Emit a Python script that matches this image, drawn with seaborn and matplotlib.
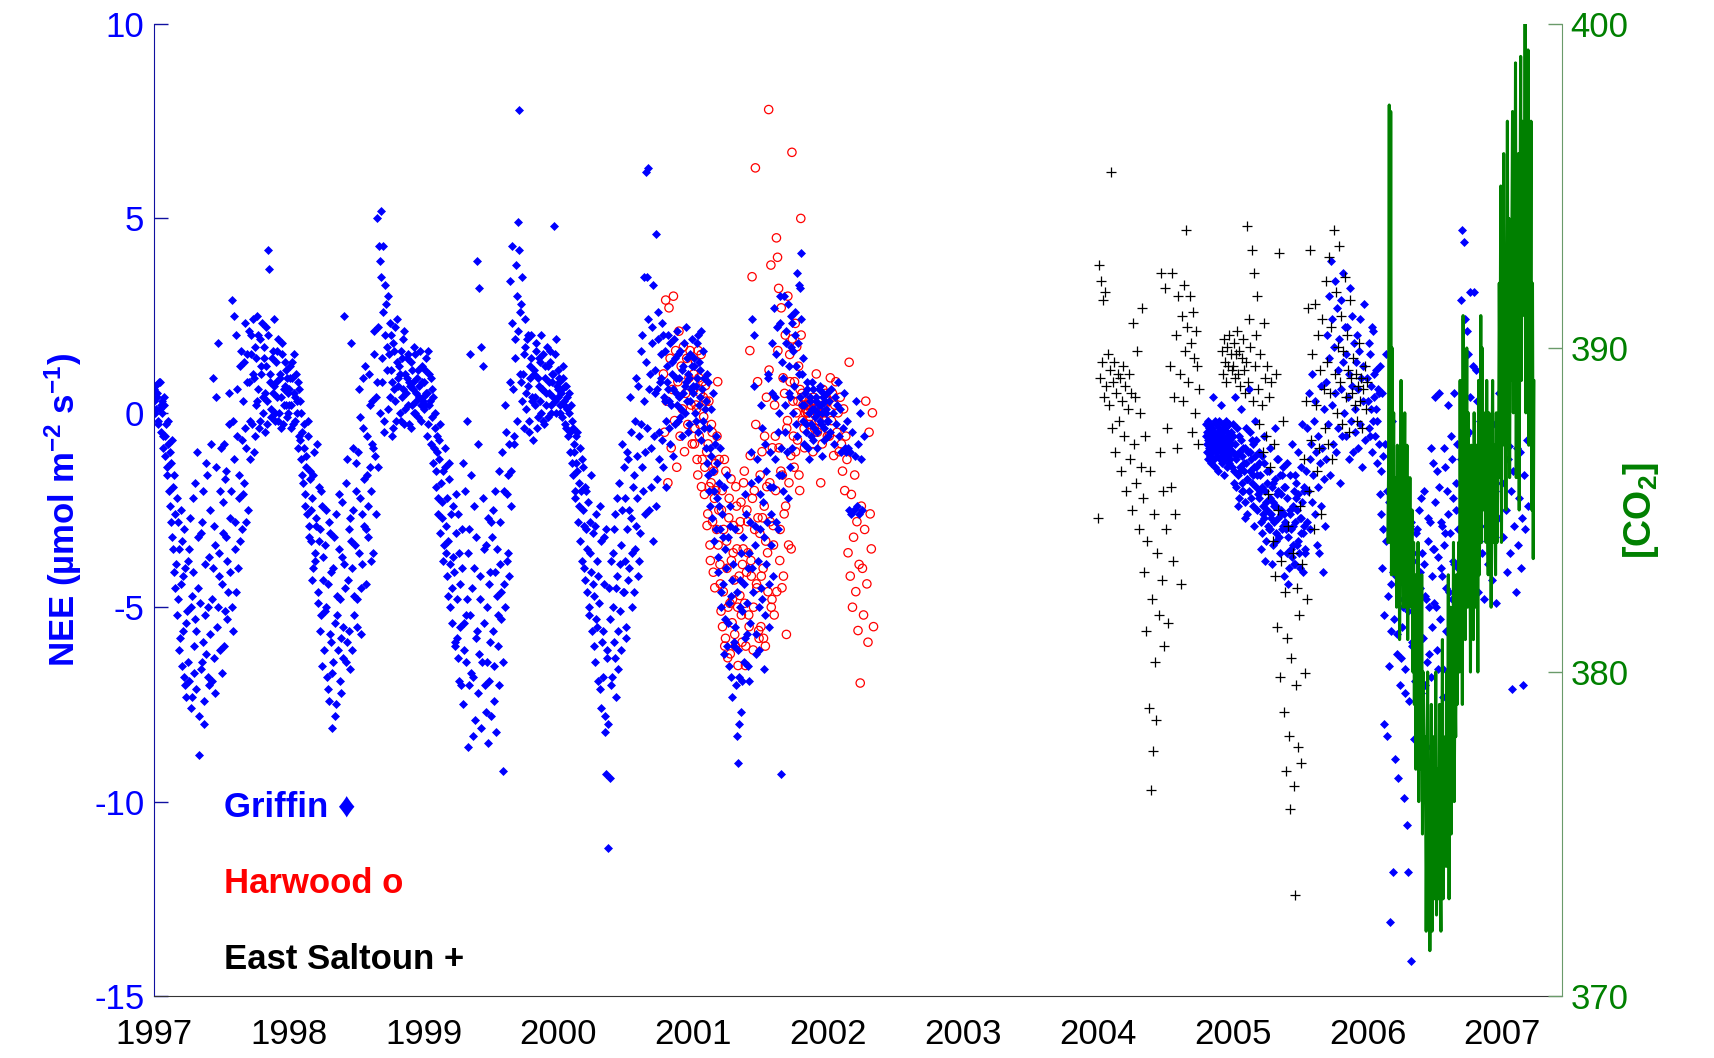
import numpy as np
import pandas as pd
import matplotlib
matplotlib.use("Agg")
import matplotlib.pyplot as plt
import matplotlib.dates as mdates
import seaborn as sns

# NEE values, one value per step (days) from each start date
griffin_1997 = [0.3, 0.7, 0.1, 0.5, -0.2, 0.8, 0.2, 0.0, -0.6, 0.4,
                -1.1, -0.3, -1.6, -0.8, -2.4, -1.3, -3.2, -1.9, -4.1, -2.6,
                -3.9, -5.2, -2.8, -6.1, -4.4, -3.3, -5.6, -6.8, -4.0, -7.3,
                -5.1, -6.4, -3.5, -7.6, -4.7, -2.2, -6.0, -5.3, -7.1, -1.0,
                -4.5, -8.8, -6.6, -2.8, -5.9, -7.4, -3.9, -6.2, -1.6, -5.0,
                -7.0, -2.5, -4.8, 0.9, -6.3, -3.4, 0.4, -5.5, 1.8, -4.2,
                -2.0, -6.7, -3.1, -0.8, -5.1, -1.5, -3.8, -4.6, -0.3, -2.7,
                2.9, -5.6, -1.2, -3.5, 2.0, -0.6, -4.0, -2.2, 1.2, -3.0,
                0.3, -1.8, 2.3, -0.9, 1.5, -2.5, 0.8, -0.2, 2.0, 1.0,
                -1.0, 1.7, 0.2, 2.5, 0.6, -0.4, 1.9, 1.2, 0.0, 1.4,
                0.5, 2.2, -0.3, 4.2, 3.7, 1.0, 0.1, 1.6, 0.7, -0.2,
                1.3, 0.4, 1.9, 0.0, 0.9, -0.4, 1.5, 0.2, 0.7, 1.1, -0.1, 0.5]
griffin_1997b = [0.6, 0.0, 0.4, -0.3, 0.8, 0.1, -0.5, 0.3, -0.9, 0.2,
                 -0.6, -1.4, -0.2, -2.0, -1.0, -2.8, -0.7, -3.5, -1.6, -4.5,
                 -2.2, -4.8, -3.5, -5.8, -2.5, -6.5, -4.2, -3.0, -7.0, -5.4,
                 -3.8, -6.9, -2.7, -5.0, -7.3, -4.1, -6.7, -1.8, -5.6, -3.2,
                 -7.8, -4.9, -3.1, -6.4, -2.0, -8.0, -5.2, -1.3, -6.8, -3.7,
                 -5.7, -0.8, -6.9, -4.0, -2.9, -7.2, -1.4, -5.0, -3.6, -6.1,
                 -0.9, -4.4, -2.3, -6.0, -1.7, -3.2, -5.3, 0.5, -4.1, -2.0,
                 -5.0, -0.2, 2.5, -2.8, -4.6, 0.6, -1.6, -3.3, 1.6, -0.7,
                 -2.1, 1.3, -0.4, -2.8, 0.8, 2.1, -1.2, 1.5, -0.3, 2.4,
                 0.9, -0.6, 1.4, 0.3, 2.0, -0.2, 1.0, 2.3, 0.4, 1.7,
                 -0.5, 1.2, 0.3, 2.0, 0.8, -0.1, 1.4, 0.5, 2.4, 0.0,
                 0.8, 1.6, -0.2, 1.0, 0.4, 1.8, -0.3, 0.6, 1.3, 0.2, 0.9, 0.0]
griffin_1998 = [0.6, 1.2, 0.2, 0.9, -0.3, 1.5, 0.4, 0.0, 0.8, -0.6,
                0.3, -1.2, -0.5, -1.8, -0.9, -2.4, -1.4, -0.2, -2.9, -1.7,
                -3.3, -2.2, -4.0, -1.0, -3.6, -2.7, -4.6, -1.9, -3.0, -5.2,
                -2.4, -4.3, -6.1, -3.4, -5.0, -7.1, -2.8, -5.7, -4.1, -8.1,
                -6.4, -3.2, -5.4, -7.5, -4.7, -2.1, -6.9, -5.8, -3.7, -6.3,
                2.5, -4.5, -1.8, -5.9, -3.0, -6.6, 1.8, -4.0, -2.5, -5.2,
                -3.4, -1.3, -4.8, 0.6, -2.2, -5.7, -3.9, -0.4, -2.9, 1.2,
                -4.4, -1.6, -3.2, 0.2, -2.0, -0.8, -3.6, 1.5, -1.1, 0.4,
                5.0, -1.4, 3.9, 5.2, 0.8, 4.3, -0.5, 3.3, 2.8, 1.7,
                0.1, 2.3, 1.1, -0.6, 1.8, 0.6, 2.2, -0.2, 1.3, 0.9,
                0.0, 1.6, 0.4, 1.9, -0.3, 1.0, 0.5, 1.4, 0.2, 0.8,
                -0.4, 1.1, 0.6, 0.0, 1.5, 0.3, 0.9, -0.1, 0.7, 0.2, 1.2, 0.4]
griffin_1998b = [0.2, 0.9, -0.4, 1.3, 0.5, -0.2, 1.0, 0.3, -0.9, 0.6,
                 -0.7, 0.0, -1.6, -0.3, -2.1, -1.1, -2.6, -0.6, -3.2, -1.5,
                 -2.5, -4.3, -1.6, -3.8, -2.9, -0.8, -4.9, -3.3, -5.6, -2.0,
                 -6.5, -3.7, -5.1, -2.5, -6.8, -4.4, -7.4, -3.1, -5.9, -6.7,
                 -4.0, -7.8, -2.6, -5.2, -6.1, -3.5, -4.8, -7.2, -2.3, -5.5,
                 -3.9, -6.4, -1.2, -4.3, -5.6, -2.7, -3.3, -6.1, -0.9, -4.7,
                 -2.0, -5.5, -1.0, -3.6, -0.1, -4.5, -2.6, 0.9, -1.7, -3.0,
                 -0.6, -2.4, 1.0, -1.4, -3.8, 0.3, -0.9, 2.1, -2.6, 0.8,
                 2.2, 4.3, 0.0, 3.5, 1.4, 2.6, -0.2, 2.0, 1.1, 3.0,
                 1.5, 0.4, 2.0, 0.8, -0.4, 1.6, 0.3, 2.4, 0.7, 1.2,
                 1.0, -0.2, 1.4, 0.6, 2.1, 0.1, 0.9, 1.5, -0.3, 0.7,
                 1.3, 0.2, 0.8, 1.7, 0.0, 0.5, 1.1, 0.4, 1.6, -0.2, 0.8, 0.3]
griffin_1999 = [0.8, 0.2, 1.4, 0.5, -0.3, 1.0, 0.3, -0.8, 0.6, -1.3,
                -0.4, -1.9, -1.0, -2.6, -0.7, -3.1, -1.8, -2.3, -3.8, -1.4,
                -2.9, -4.2, -3.3, -1.7, -5.0, -2.6, -4.5, -3.7, -5.9, -2.1,
                -4.8, -6.3, -3.6, -5.5, -7.0, -4.0, -1.3, -6.1, -5.2, -0.2,
                -8.6, -3.0, 1.5, -6.7, -4.5, -8.3, -2.4, -5.8, 3.9, -7.2,
                3.2, -4.8, 1.7, -6.4, 1.2, -3.5, -7.7, -5.0, -2.7, -6.9,
                -4.1, -2.8, -3.2, -5.6, -7.4, -2.0, -4.7, -6.0, -1.5, -3.9,
                -5.3, -1.0, -9.2, -4.4, 0.2, -2.1, -3.6, -0.8, 3.4, -1.5,
                4.3, 0.6, -0.6, 1.9, 3.0, 4.9, 7.8, 2.6, 0.8, 3.5,
                1.0, -0.4, 1.7, 0.5, 2.0, -0.2, 0.9, 1.4, 0.3, -0.7,
                1.1, 0.4, 1.8, -0.1, 0.7, 1.3, 0.0, 0.6, 1.5, -0.3,
                0.9, 0.2, 1.2, 0.5, 1.6, 0.0, 0.8, 1.0, 4.8, 0.3, 1.9, 0.6]
griffin_1999b = [0.1, 1.1, 0.5, -0.6, 1.6, 0.2, 0.9, -0.1, 0.4, -0.9,
                 0.0, -1.5, -0.6, -2.2, -1.2, -0.3, -2.7, -1.5, -3.4, -0.9,
                 -3.6, -2.2, -4.7, -1.3, -3.9, -5.4, -2.4, -4.1, -6.0, -3.1,
                 -5.8, -2.6, -6.9, -4.4, -3.0, -7.5, -5.4, -2.0, -6.4, -4.8,
                 -3.6, -7.0, -5.2, -1.6, -6.8, -4.0, -7.9, -3.2, -5.6, -0.8,
                 -6.2, -4.2, -8.1, -2.2, -5.4, -7.0, -3.4, -6.4, -8.5, -4.4,
                 -5.9, -7.8, -2.5, -6.5, -4.1, -8.2, -3.5, -5.2, -7.0, -2.8,
                 -4.6, -6.4, -2.0, -5.0, -0.5, -3.8, -1.6, -4.2, 0.8, -2.4,
                 2.3, -0.8, 1.4, 3.8, -0.2, 2.1, 4.2, 1.0, 2.8, 0.3,
                 1.5, 2.4, 0.1, 1.9, 0.7, -0.5, 1.2, 2.0, 0.4, 1.0,
                 0.2, 1.6, -0.4, 0.9, 1.4, 0.3, 2.0, 0.6, -0.2, 1.2,
                 0.5, 1.7, -0.1, 0.8, 1.3, 0.2, 1.0, 0.4, 1.5, 0.0, 0.7, 1.1]
griffin_2000 = [0.4, 0.9, 0.0, 0.6, 1.2, 0.2, -0.3, 0.7, 0.1, -0.6,
                0.5, -1.0, -0.2, -1.6, -0.8, -2.2, -1.3, -0.5, -2.8, -1.8,
                -3.3, -1.2, -2.5, -4.0, -1.9, -3.0, -4.6, -2.3, -5.2, -3.6,
                -1.6, -4.4, -6.0, -2.9, -5.3, -3.8, -6.9, -4.9, -2.4, -7.6,
                -5.6, -3.2, -8.2, -9.3, -6.3, -11.2, -4.5, -9.4, -7.0, -3.6,
                -5.9, -2.6, -7.3, -4.2, -6.6, -1.8, -5.1, -3.4, -0.8, -4.6,
                -2.2, -5.5, -3.0, -1.2, -4.0, 0.4, -2.7, -5.0, -1.6, -3.5,
                0.9, -2.2, -4.2, -0.6, -3.1, 1.6, -1.4, 0.3, -2.6, 6.2,
                3.5, 6.3, -2.5, 1.0, -0.9, 2.2, -3.3, 0.5, 4.6, -1.7,
                2.6, -1.2, 0.8, 1.5, -0.7, 2.0, 0.3, -1.9, 1.2, 0.6,
                -0.4, 1.8, 0.2, 1.0, -1.1, 1.4, 0.5, 2.1, -0.2, 0.9,
                1.6, 0.1, -0.6, 1.2, 0.7, 2.2, 0.3, 1.0, -0.3, 1.5, 0.6, 1.9]
griffin_2000b = [0.8, 0.2, 0.5, -0.1, 0.9, 0.3, 0.7, -0.4, 0.4, 0.0,
                 -0.5, 0.2, -1.3, -0.4, -1.0, -2.0, -0.6, -1.5, -2.4, -0.9,
                 -2.0, -3.8, -1.4, -2.9, -4.3, -2.0, -3.5, -5.0, -2.8, -4.1,
                 -5.6, -3.1, -4.7, -6.4, -2.6, -5.5, -4.2, -7.1, -3.3, -5.9,
                 -6.8, -4.4, -7.8, -3.0, -6.1, -8.0, -5.3, -3.8, -6.8, -5.0,
                 -3.0, -6.3, -4.5, -2.2, -5.6, -3.9, -6.1, -2.5, -4.6, -1.4,
                 -3.8, -5.8, -1.0, -4.3, -2.5, -0.5, -3.6, -1.9, -4.6, -0.2,
                 -2.9, -1.1, 0.7, -3.8, -0.3, 2.0, -2.0, 3.5, -1.0, 1.3,
                 -0.4, 2.4, 0.6, -1.9, 1.8, 3.3, -0.6, 1.1, -2.4, 0.6,
                 1.9, -0.5, 0.9, 2.3, -1.4, 0.4, 1.6, -0.2, 0.8, 2.0,
                 0.3, -0.8, 1.3, 0.6, 1.9, -0.3, 0.9, 0.2, 1.5, 0.4,
                 -0.1, 1.1, 0.5, 1.8, 0.0, 0.8, 1.4, -0.5, 0.9, 0.3, 1.2, 0.7]
griffin_2001 = [0.5, 1.4, -0.2, 0.9, 2.0, 0.2, 1.1, -0.7, 0.6, 1.6,
                -0.4, 0.3, -1.3, 0.8, -2.0, -0.9, 0.1, -2.7, -1.5, -3.3,
                -0.6, -2.2, -4.1, -1.8, -3.0, -5.0, -2.6, -4.4, -6.2, -3.5,
                -1.6, -5.4, -6.5, -2.9, -4.7, -7.3, -3.9, -6.0, -5.5, -8.3,
                -9.0, -6.8, -4.3, -7.7, -5.1, -3.2, -6.4, -2.1, -5.7, -4.0,
                -6.9, -2.8, -1.0, 2.4, -4.6, 2.0, -3.4, -6.2, -1.7, -5.0,
                -3.0, 0.2, -4.8, -2.3, -6.6, -0.8, -3.9, 1.0, -5.5, -1.9,
                -2.6, 0.5, -4.2, 2.7, -1.2, 1.5, -3.0, 0.0, 2.3, -9.3,
                -1.6, 0.9, 3.0, -0.5, 1.8, -2.2, 1.2, 0.4, 2.5, -0.9,
                1.6, 0.7, 2.0, -0.3, 3.6, 1.0, 3.2, 4.1, 0.2, 1.4,
                -0.8, 0.5, -0.3, 0.8, -1.2, 0.3, -0.6, 0.1, 0.6, -0.4,
                -0.1, 0.4, -0.9, 0.2, 0.7, -0.3, 0.0, 0.5, -0.7, 0.3, 0.1, -0.2]
griffin_2001b = [1.2, 0.0, 0.7, 1.8, -0.5, 1.3, 0.4, 2.1, -0.2, 0.9,
                 0.1, -0.9, 1.0, -1.6, -0.4, -2.4, -1.1, 0.5, -2.0, -0.8,
                 -3.0, -1.3, -3.7, -2.4, -0.9, -4.6, -3.2, -1.9, -5.3, -4.0,
                 -6.0, -3.2, -4.9, -2.4, -6.8, -4.3, -5.9, -3.0, -7.0, -4.6,
                 -6.1, -8.0, -5.0, -3.6, -6.9, -4.4, -5.8, -2.6, -4.9, -6.5,
                 -3.6, -5.4, -1.8, -4.0, 0.7, -2.9, -5.7, -1.2, -3.8, -6.1,
                 -2.1, -4.5, -0.4, -3.2, -5.2, -1.5, -2.8, 0.9, -4.4, -1.0,
                 -3.4, 1.8, -1.9, 0.4, -2.8, 2.2, -0.5, -1.6, 3.0, -0.9,
                 1.3, -2.0, 0.2, 2.1, -1.0, 2.8, 0.5, -1.4, 1.7, 2.3,
                 0.0, 2.6, 1.2, -0.6, 1.8, 3.3, 0.4, 2.4, 1.0, -0.2,
                 0.2, -0.5, 0.6, -0.9, 0.0, 0.4, -0.3, 0.8, -0.7, 0.1,
                 0.3, -0.5, 0.0, 0.6, -0.2, 0.2, -1.1, 0.4, -0.4, 0.0, 0.5, -0.6]
griffin_2002 = [-0.2, 0.3, -0.5, 0.6, 0.0, -0.8, 0.4, -0.3, 0.2, 0.8, -0.6,
                0.1, -1.0, -0.4, 0.5, -0.9, -1.0, -0.2, -0.9, -2.5, -1.0, -2.6,
                -0.5, -2.5, -1.1, 0.3, -2.4, -0.8, -2.6, 0.0, -1.2, -2.5, -0.6]
griffin_2004 = [-0.6, -0.3, -1.0, -0.5, -0.8, -0.2, -1.2, -0.7, -0.4, -0.9,
                -0.6, -1.1, -0.3, -0.8, -0.5, -1.3, -0.7, -0.4, -1.0, -0.6,
                0.4, -0.9, -0.5, -1.2, -0.8, -0.2, -1.4, -0.6, -1.0, -0.3,
                -0.7, -1.1, -0.5, -0.9, -1.5, -0.4, -0.8, -0.2, -1.2, -0.6,
                -1.0, -0.7, 0.2, -1.3, -0.5, -0.9, -0.3, -1.1, -0.6, -1.6,
                -0.8, -0.4, -1.2, -0.7, -1.0, -0.2, -0.9, -1.4, -0.5, -0.8,
                -1.1, -0.6, -1.3, -0.3, -0.9, -0.7, -1.2, -0.5, -1.0, -0.8, -1.4, -0.6]
griffin_2005 = [-1.0, -0.6, -1.5, -0.8, -1.9, -1.2, -0.4, -1.6, -2.2, -1.0, -1.4, -0.7,
                -1.8, -1.1, -2.0, -1.5, -0.9, -2.3, -1.3, -1.7, -2.6, -1.0, -2.0, -1.5,
                -0.5, -1.2, -1.8, -0.8, -2.4, -1.4, -1.1, -1.9, -0.7, -1.6, -2.1, -1.3,
                -2.2, -1.6, -2.8, -1.9, -3.1, -2.4, -1.3, -2.7, -2.0, -3.3, -1.8, -2.5,
                -2.9, -1.5, -2.2, -3.0, -2.6, -1.9, -3.4, -2.3, -2.8, -1.7, -3.1, -2.4,
                -1.2, -2.0, -2.7, -3.2, -1.6, -2.5, -2.1, -3.0, -1.4, -2.6, -1.9, -2.8,
                -2.9, -3.6, -2.2, -3.2, -4.0, -2.6, -1.6, -3.0, -3.7, -2.4, -3.4, -2.0,
                -2.8, -3.9, -1.8, -2.5, -3.3, -2.1, -3.6, -2.7, -1.4, -3.1, -2.3, -4.1,
                -2.9, -1.9, -3.5,
                -1.5, -2.8, -0.4, -2.0, 0.5, -1.2, -3.0, -0.8, -2.3, 1.0, -1.6, -0.2,
                -2.6, 0.3, -1.0, -3.4, -0.6, -1.9, -3.6, -1.3, 0.7, -2.4, -0.9, -4.1,
                -1.7, 0.1, -2.9,
                0.8, -1.2, 2.0, -0.3, 3.0, 1.4, -1.6, 3.9, 0.2, 2.4, -0.8, 1.7,
                3.4, 0.5, -1.0, 2.7, 1.1, -0.4, 1.9, -1.8, 0.6, 2.9, -0.6, 1.3,
                3.6, 0.0, 2.2,
                1.5, -0.6, 2.2, 0.4, -1.2, 1.0, 3.2, -0.2, 0.7, 2.5, -1.0, 1.8,
                0.1, -0.5, 1.3, 2.0, -0.9, 0.6, 1.6, -0.3, 2.4, 0.9, -1.4, 1.2,
                0.3, 2.8, -0.7]
griffin_2005b = [-0.3, -1.8, 0.4, -1.1, -2.4, -0.6, -1.5, 0.1, -2.0, -0.9, -1.3, -2.7,
                 -0.4, -1.7, 0.6, -1.0, -2.2, -0.7, -1.6, -2.9, -0.2, -1.4, -2.5, -1.0,
                 -2.0, -3.5, -1.1, -2.6, -0.6, -3.8, -2.3, -1.5, -3.0, -0.9, -2.7, -3.9,
                 -1.8, -2.4, -0.4, -3.3, -2.1, -1.2, -3.6, -2.6, -1.6, -2.9, -4.2, -1.9,
                 -3.0, -1.3, -4.4, -2.5, -3.5, -0.8, -2.9, -3.9, -1.6, -2.2, -3.4, -1.0,
                 -4.0, -2.7, -0.3, -3.1, -2.0, -3.6]
griffin_2006 = [0.9, -0.4, 1.5, 0.1, -1.0, 2.1, 0.4, -0.6, 1.1, -0.2, 0.5, 1.2,
                -1.5, 0.5, -3.0, -8.0, -0.8, 1.5, -8.3, -2.3, -13.1, -4.4, -0.2, -11.8,
                -3.0, -8.9, -4.2, -5.7, -9.4, -2.4, -6.3, -3.6, -5.0, -9.9, -7.2, -4.4,
                -10.6, -11.8, -2.9, -14.1, -6.0, -3.8,
                -8.4, -5.2, -3.1, -6.6, -8.5, -4.5, -2.2, -5.8, -9.1, -3.9, -7.0, -4.8,
                -8.6, -2.7, -6.2, -0.9, -5.5, -1.3,
                -3.5, 0.4, -5.0, -1.5, -6.6, 0.5, -2.8, -4.2, -7.3, -0.9, -3.1, -5.6,
                -2.0, 0.2, -4.6, -6.0, -1.2, -3.8, 0.5, -5.1, -2.5, -0.8, -4.0, -6.4,
                2.9, 4.7, -2.0, 4.4, 2.4, -3.5, 2.1, 1.5, -0.5, 3.1, -4.2, 1.2,
                3.1, -1.5, -2.8, 0.3, -4.6, -1.0,
                -2.1, -3.6, -0.4, -4.8, -1.7, -2.9, -0.8, -3.9, -2.4, -1.2, -4.3, -0.3,
                -3.1, -2.0, -4.9, -1.5, -2.7, 0.5]
griffin_2006b = [0.3, 1.8, -0.6, 0.7, 2.2, -0.2, 1.0, 0.1, -1.3, 0.6, -0.8, -2.1,
                 -2.6, -4.0, -1.1, -5.2, -3.3, -2.0, -4.7, -6.5, -3.0, -5.6, -2.2, -4.1,
                 -5.3, -3.4, -6.2, -2.6, -4.8, -7.0, -3.9, -5.5, -2.3, -4.4, -6.6, -3.2,
                 -5.1, -7.4, -4.0, -2.8, -5.9, -3.6,
                 -4.6, -6.9, -3.0, -5.4, -2.5, -4.1, -7.2, -3.6, -5.8, -2.0, -4.7, -6.4,
                 -3.3, -5.0, -2.8, -6.8, -4.2, -3.5,
                 -4.9, -2.3, -6.1, -3.7, -1.9, -5.3, -4.0, -2.9, -6.6, -3.4, -1.4, -4.5,
                 -2.6, -5.7, -3.1, -0.6, -4.8, -2.2, -3.9, -5.4, -1.8, -3.0, -4.4, -2.5,
                 -1.2, -3.4, 0.8, -2.4, -4.0, -0.6, -2.9, -1.6, 0.4, -3.6, -2.0, -0.9,
                 -4.4, -1.3, 1.1, -2.7, -3.3, -0.2]
griffin_2007 = [-1.8, -3.2, -0.6, -2.5, -4.1, -1.2, -0.85, -3.6, -2.0, -7.1, -1.5, -2.9,
                -4.6, -0.9, -3.4, -2.2, -1.0, -4.0, -2.7, -7.0, -1.6, -3.0, -0.7, -2.4]

harwood_2000 = [1.0, -0.5, 2.9, 0.3, -1.8, 2.7, 1.4, -0.9, 0.6, 3.0, -0.2, 1.6, -1.4,
                0.8, 2.1, -0.6, 1.2, 0.1, 1.7, -1.0, 0.5, 1.4, -0.3, 0.9, 1.6, 0.2, -0.8]
harwood_2001 = [0.6, -0.8, 1.3, 0.1, -1.6, 0.9, -0.3, 1.5, -1.2, 0.4, -2.1, 0.7,
                -1.0, -2.6, 0.3, -3.4, -1.8, -0.5, -4.1, -2.2, -1.3, -3.0, 0.8, -2.5,
                -3.9, -5.1, -2.0, -4.6, -1.2, -5.8, -3.3, -6.3, -2.7, -4.9, -1.7, -5.4,
                -3.6, -4.3, -6.0, -2.4, -5.0, -3.0,
                -4.7, -2.3, -5.9, -3.5, -1.5, -6.5, -4.1, -2.8, -5.2, 1.6, -3.8, 3.5,
                -6.1, -2.0, 6.3, -4.4, 0.8, -5.6,
                -3.1, -5.5, -1.0, -4.0, -2.4, -6.0, 0.4, -3.6, 7.8, -1.8, 3.8, -4.8,
                -2.9, -5.2, -0.6, 4.5, 4.0, 3.2, -3.8, -1.5, -4.5, 0.9, -2.6, 2.0,
                -5.7, -0.2, -3.4, 1.5, -1.1, 6.7,
                0.3, -1.4, 2.3, 0.0, -0.7, 1.2, -2.0, 5.0, 0.5, 0.2, -0.4, 0.0,
                0.1, 0.0, 0.2, -0.3, 0.1, 0.3, -1.0, 0.0, 0.2, 1.0, -0.5, 0.1,
                0.3, -1.8, 0.0, 0.6, -0.2, 0.2, 0.4, -0.6]
harwood_2001b = [1.0, -0.4, 0.2, -1.2, 1.6, -0.6, 0.5, -1.9, 0.8, -0.1, -1.4, 0.3,
                 -2.9, -0.8, -1.9, -3.8, -0.3, -2.8, -1.5, -4.5, -2.0, -0.6, -3.4, -1.2,
                 -4.4, -2.5, -5.5, -3.0, -6.0, -1.5, -4.0, -5.0, -2.2, -6.2, -3.8, -4.8,
                 -2.9, -5.7, -1.9, -3.5, -6.5, -4.2,
                 -2.8, -5.2, -3.9, -1.8, -4.9, -6.0, -2.5, -3.6, -5.5, -1.1, -4.2, -2.2,
                 -5.0, -3.0, -0.3, -4.5, -2.7, -5.8,
                 -1.6, -4.2, -2.7, -5.8, -0.6, -3.3, -1.9, -4.6, 1.1, -2.8, -5.0, -0.9,
                 -3.4, 0.2, -2.0, -4.6, 1.6, -0.9, -3.0, 2.7, -1.6, -4.2, 0.5, -2.4,
                 -0.4, 3.0, -1.8, 0.8, -3.5, 1.9,
                 -0.6, 0.8, -1.0, 1.7, 0.3, -1.6, 0.6, 2.0, -0.2, 0.4, -0.9, 0.1,
                 0.2, 0.0, 0.3, -0.1, 0.2, 0.0, 0.4, -0.4, 0.1, 0.2, 0.0, -0.2,
                 0.3, 0.1, -0.8, 0.2, 0.0, 0.5]
harwood_2002 = [0.3, -0.6, 0.9, -0.2, 0.5, -1.1, 0.2, 0.8, -0.5, 0.0, -1.0, 0.4,
                -0.8, -1.5, 0.1, -2.0, -0.6, -1.2,
                -3.6, 1.3, -4.2, -2.1, -5.0, -3.2, -1.6, -4.6, -2.8, -5.6, -3.9, -6.95,
                -2.4, -4.0, -5.2, -3.0, 0.3, -4.4, -5.9, -0.5, -2.6, -3.5, 0.0, -5.5]

nan = np.nan
saltoun_2004 = [-2.7, 3.8, 0.9, 3.4, 1.3, 2.9, 0.4, 3.1, 0.7, 1.5,
                0.2, 1.1, 6.2, -0.4, 0.8, 1.3, -1.0, 0.5, 1.0, -0.2,
                0.9, -1.5, 0.3, 1.2, -0.6, 0.7, -2.0, 0.1, 1.0, -1.2,
                0.5, -2.5, 2.3, -0.8, 0.4, -1.8, 1.6, -3.0, 0.0, -1.4,
                2.7, -2.2, -4.1, -0.6, -5.6, -3.3, -7.6, -1.5, -9.7, -4.8,
                -8.7, -2.6, -6.4, -7.9, -3.6, -5.2, -1.0, 3.6, -4.3, -2.0,
                -6.0, 3.2, -3.0, -0.4, -5.4, 1.2, -1.9, 3.6, -3.8, 0.4,
                -2.6, 2.0, -0.9, 3.0, 1.0, -4.4, 2.5, 0.3, 3.3, 1.6,
                4.7, 2.2, 0.8, 3.0, 1.8, -0.5, 2.6, 1.4, 0.0, 2.1,
                1.2, -0.8, 0.6, nan, nan, nan, nan, nan, nan, nan,
                nan, nan, nan, nan, nan, nan, nan, nan, nan, nan, nan, nan,
                1.6, 1.0, 1.9, 1.3, 0.8, 1.7, 1.2, 2.0, 1.5, 1.1]
saltoun_2005 = [1.2, 1.8, 0.9, 1.5, 2.1, 1.0, 1.6, 0.7, 1.4, 1.9, 1.1, 0.5,
                1.3, 4.8, 0.8, 2.4, 1.7, 4.2, 0.3, 3.6, 1.2, 2.0, 3.0, 0.6,
                -0.3, 1.5, 0.2, -1.0, 2.3, 0.9, -0.6, 1.2, -2.1, 0.4, -1.4, 0.8,
                -3.3, -0.8, -4.2, 1.0, -5.5, -2.5, 4.1, -6.8, -3.8, -0.2, -7.7, -4.6,
                -9.2, -5.8, -2.9, -8.3, -10.2, -6.3, -3.6, -9.6, -12.4, -7.0, -4.5, -8.6,
                -5.2, -2.4, -9.0, -3.9, -1.2, -6.7, 0.3, -4.8, 2.7, -2.0, 4.2, -0.7,
                1.5, -3.0, 2.8, 0.2, -1.5, 2.0, -0.9, 1.1, -2.6, 2.4, 0.6, -0.4,
                3.4, 1.3, -0.8, 4.0, 0.5, 2.2, -1.2, 4.7, 1.0, 3.1, 0.0, 1.7,
                4.3, 0.8, 2.5, -0.3, 1.6, 3.5, 0.4, 2.0, 1.1, -0.5, 2.9, 0.9,
                0.5, 1.4, 0.2, 1.0, -0.2, 0.7, 1.8, 0.3, 0.9, -0.4, 0.6, 1.2, 0.1, 0.8]

# [CO2] ppm, every 2 days from 2006-02-25
co2_ppm = [384, 386,
           397.5, 384, 397.3, 383, 390, 385, 388, 383, 386,
           385, 382, 387, 383, 386, 381, 384, 389, 383, 386, 382, 385, 388, 382,
           384, 387, 381, 385, 383, 386, 382, 384,
           385, 380, 384, 379, 383, 377, 382, 378, 384, 376, 381, 379, 377, 383,
           375, 380, 378, 376,
           378, 372, 376, 380, 373, 377, 371.4, 375, 379, 372, 374, 378, 373, 376,
           380, 372.5, 375, 377, 373, 379, 374, 372, 376, 381, 373, 378, 375,
           377, 374, 380, 376, 383, 373, 379, 382, 375, 381, 377, 384, 376, 380,
           378, 383, 379, 382,
           384, 380, 389, 382, 386, 379, 391, 383, 387, 381, 385, 390, 382, 388,
           384, 386, 380, 387,
           383, 386, 381, 388, 384, 382, 387, 385, 380, 389, 383, 386, 391, 384,
           390, 385, 388, 386,
           387, 384, 389, 385, 383, 388, 385, 387, 382, 386, 389, 384, 387, 385,
           383, 388, 384, 386,
           386, 392, 388, 395, 384, 391, 389, 396, 387, 393, 385, 390, 397, 388,
           394, 386, 392, 389,
           393, 397.3, 388, 395, 390, 398.8, 386, 394, 391, 396, 385, 393, 399, 389,
           397, 392, 395, 391, 400, 388, 396, 393, 399.2, 387, 394, 390, 397, 385,
           392, 383.5, 389]

griffin_blocks = [("1997-01-01", 3, griffin_1997), ("1997-01-02", 3, griffin_1997b),
                  ("1998-01-01", 3, griffin_1998), ("1998-01-02", 3, griffin_1998b),
                  ("1999-01-01", 3, griffin_1999), ("1999-01-02", 3, griffin_1999b),
                  ("2000-01-01", 3, griffin_2000), ("2000-01-02", 3, griffin_2000b),
                  ("2001-01-01", 3, griffin_2001), ("2001-01-02", 3, griffin_2001b),
                  ("2002-01-01", 3, griffin_2002),
                  ("2004-10-20", 1, griffin_2004),
                  ("2005-01-01", 2, griffin_2005), ("2005-01-02", 3, griffin_2005b),
                  ("2006-01-01", 3, griffin_2006), ("2006-01-02", 3, griffin_2006b),
                  ("2007-01-01", 3, griffin_2007)]
harwood_blocks = [("2000-10-12", 3, harwood_2000), ("2001-01-01", 3, harwood_2001),
                  ("2001-01-02", 3, harwood_2001b), ("2002-01-01", 3, harwood_2002)]
saltoun_blocks = [("2004-01-01", 3, saltoun_2004), ("2005-01-01", 3, saltoun_2005)]


def to_frame(blocks):
    parts = []
    for start, step, vals in blocks:
        dates = pd.date_range(start, periods=len(vals), freq=f"{step}D")
        parts.append(pd.DataFrame({"date": dates, "nee": vals}))
    return pd.concat(parts, ignore_index=True).dropna()


griffin = to_frame(griffin_blocks)
harwood = to_frame(harwood_blocks)
saltoun = to_frame(saltoun_blocks)
co2 = pd.DataFrame({"date": pd.date_range("2006-02-25", periods=len(co2_ppm), freq="2D"),
                    "ppm": co2_ppm})

sns.set_style("white")
plt.rcParams["font.family"] = ["Liberation Sans", "DejaVu Sans"]
plt.rcParams["axes.unicode_minus"] = False
plt.rcParams["mathtext.fontset"] = "custom"
plt.rcParams["mathtext.rm"] = "Liberation Sans:bold"
plt.rcParams["mathtext.it"] = "Liberation Sans:bold"
plt.rcParams["mathtext.bf"] = "Liberation Sans:bold"

green = "#008000"
fig = plt.figure(figsize=(17.15, 10.58), dpi=100)
ax = fig.add_axes([0.0898, 0.0586, 0.821, 0.9187])

sns.scatterplot(data=harwood, x="date", y="nee", marker="o", s=36, color="red", ax=ax)
ax.collections[-1].set_facecolor("none")
ax.collections[-1].set_edgecolor("red")
ax.collections[-1].set_linewidth(0.9)
sns.scatterplot(data=griffin, x="date", y="nee", marker="D", s=21, color="blue",
                linewidth=0, ax=ax)
sns.scatterplot(data=saltoun, x="date", y="nee", marker="+", s=44, color="black",
                linewidth=0.9, ax=ax)

ax.set_xlim(pd.Timestamp("1997-01-01"), pd.Timestamp("2007-06-12"))
ax.set_ylim(-15, 10)
ax.set_yticks([-15, -10, -5, 0, 5, 10])
ax.xaxis.set_major_locator(mdates.YearLocator())
ax.xaxis.set_major_formatter(mdates.DateFormatter("%Y"))
ax.tick_params(axis="x", direction="in", length=11, width=1, labelsize=25,
               colors="#333333", labelcolor="black", pad=15.5)
ax.tick_params(axis="y", direction="in", length=10, width=1, labelsize=25,
               colors="#1010a0", labelcolor="blue", pad=7)
ax.set_xlabel("")
ax.set_ylabel("NEE (µmol m$^{-2}$ s$^{-1}$)", color="blue", fontsize=25,
              fontweight="bold")
ax.yaxis.set_label_coords(-0.05, 0.5)
for side in ["top", "right"]:
    ax.spines[side].set_visible(False)
ax.spines["left"].set_color("#1010a0")
ax.spines["bottom"].set_color("#333333")

legend_x = mdates.date2num(pd.Timestamp("1997-07-09"))
ax.text(legend_x, -10.15, "Griffin ♦", color="blue", fontsize=25, fontweight="bold", va="center")
ax.text(legend_x, -12.1, "Harwood o", color="red", fontsize=25, fontweight="bold", va="center")
ax.text(legend_x, -14.05, "East Saltoun +", color="black", fontsize=25, fontweight="bold",
        va="center")

ax2 = ax.twinx()
sns.lineplot(data=co2, x="date", y="ppm", color=green, linewidth=2.2, estimator=None,
             ax=ax2)
ax2.set_ylim(370, 400)
ax2.set_yticks([370, 380, 390, 400])
ax2.tick_params(axis="y", direction="in", length=10, width=1, labelsize=25,
                colors="#6a9a6a", labelcolor=green, pad=6)
ax2.set_ylabel("[CO$_2$]", color=green, fontsize=27, fontweight="bold")
ax2.yaxis.set_label_coords(1.042, 0.5)
for side in ["top", "left", "bottom"]:
    ax2.spines[side].set_visible(False)
ax2.spines["right"].set_color("#6a9a6a")
ax2.set_xlim(pd.Timestamp("1997-01-01"), pd.Timestamp("2007-06-12"))

fig.savefig("out.png", dpi=100)
